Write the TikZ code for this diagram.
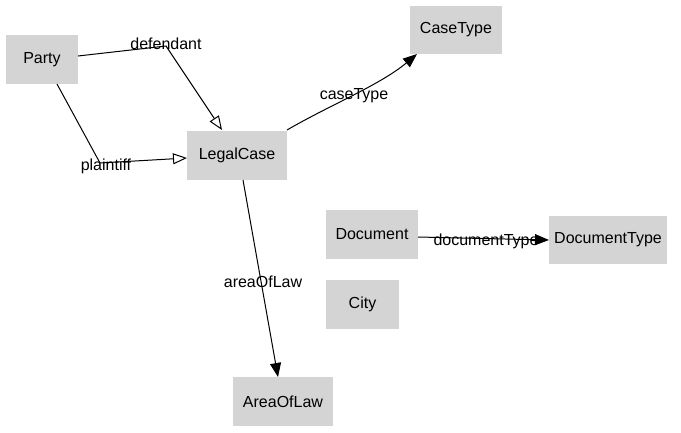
\documentclass[tikz,border=0pt]{standalone}
\usepackage{fontspec}
\setmainfont{Liberation Sans}
\usetikzlibrary{arrows.meta}
\begin{document}
\begin{tikzpicture}[x=1pt,y=-1pt,
  box/.style={fill=black!17,draw=none,inner sep=0pt,font=\fontsize{16}{19}\selectfont},
  lbl/.style={font=\fontsize{16}{19}\selectfont,inner sep=0pt},
  edge/.style={line width=1pt,draw=black},
  fill tip/.style={-{Triangle[length=14pt,width=11pt]}},
  open tip/.style={-{Triangle[open,length=14pt,width=11pt,fill=white]}}]
\useasboundingbox (0,0) rectangle (681,432);
\node[box,minimum width=72pt,minimum height=49pt] (party) at (42,59.5) {Party};
\node[box,minimum width=100pt,minimum height=49pt] (legal) at (237,155) {LegalCase};
\node[box,minimum width=92pt,minimum height=48pt] (casetype) at (456,30) {CaseType};
\node[box,minimum width=92pt,minimum height=49pt] (document) at (372,234.5) {Document};
\node[box,minimum width=118pt,minimum height=48pt] (doctype) at (608,240) {DocumentType};
\node[box,minimum width=73pt,minimum height=49pt] (city) at (362.5,304.5) {City};
\node[box,minimum width=100pt,minimum height=49pt] (area) at (283,401.5) {AreaOfLaw};
\coordinate (d1) at (166,46);
\coordinate (p1) at (100,163);
\coordinate (dend) at (222,130);
\coordinate (pend) at (187,158);
\coordinate (pstart) at (57,84);
\coordinate (dstart) at (78,56);
\draw[edge,open tip] (dstart) -- (d1) -- (dend);
\draw[edge,open tip] (pstart) -- (p1) -- (pend);
\coordinate (cs) at (287,130);
\coordinate (ce) at (417,54);
\draw[edge,fill tip] (cs) .. controls (330,105) and (380,85) .. (ce);
\coordinate (ds) at (418,237);
\coordinate (de) at (549,240);
\draw[edge,fill tip] (ds) -- (de);
\coordinate (as) at (243,180);
\coordinate (ae) at (278,377);
\draw[edge,fill tip] (as) -- (ae);
\node[lbl] (ldef) at (166,44) {defendant};
\node[lbl] (lpla) at (106,166) {plaintiff};
\node[lbl] (lcase) at (354,96) {caseType};
\node[lbl] (ldoc) at (486,241) {documentType};
\node[lbl] (larea) at (263,282) {areaOfLaw};
\end{tikzpicture}
\end{document}
